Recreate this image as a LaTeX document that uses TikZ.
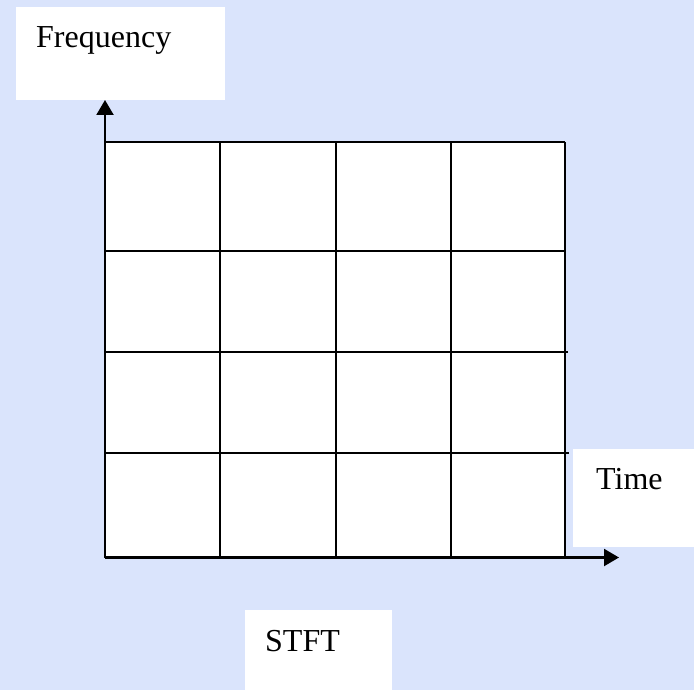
\documentclass[tikz,border=0pt]{standalone}
\usepackage{fontspec}
\setmainfont{Liberation Serif}
\usetikzlibrary{arrows.meta}
\definecolor{bgblue}{RGB}{218,228,252}
\begin{document}
\begin{tikzpicture}[x=1pt,y=-1pt,
  labelbox/.style={fill=white,draw=none,anchor=north west,inner sep=0pt},
  lbl/.style={font=\fontsize{32}{37}\selectfont,anchor=base west,inner sep=0pt},
  gridline/.style={line width=1.6pt,black},
  axis/.style={line width=2.2pt,black,-{Triangle[length=15pt,width=17pt]}}]
\fill[bgblue] (0,0) rectangle (694,690);
\useasboundingbox (0,0) rectangle (694,690);
% label boxes
\node[labelbox,minimum width=209pt,minimum height=93pt] (fbox) at (16,7) {};
\node[lbl] (flbl) at (36,48) {Frequency};
\node[labelbox,minimum width=121pt,minimum height=98pt] (tbox) at (573,449) {};
\node[lbl] (tlbl) at (596,489) {Time};
\node[labelbox,minimum width=147pt,minimum height=80pt] (sbox) at (245,610) {};
\node[lbl] (slbl) at (265,651) {STFT};
% grid
\fill[white] (105,142) rectangle (565,557);
\foreach \x in {220,336,451,565} \draw[gridline] (\x,142) -- (\x,557);
\draw[gridline] (105,142) -- (565,142);
\draw[gridline] (105,251) -- (565,251);
\draw[gridline] (105,352) -- (568,352);
\draw[gridline] (105,453) -- (569,453);
% axes
\coordinate (o) at (105,557.5);
\coordinate (ytip) at (105,100);
\coordinate (xtip) at (619,557.5);
\draw[axis] (o) -- (ytip);
\draw[axis] (o) -- (xtip);
\end{tikzpicture}
\end{document}
